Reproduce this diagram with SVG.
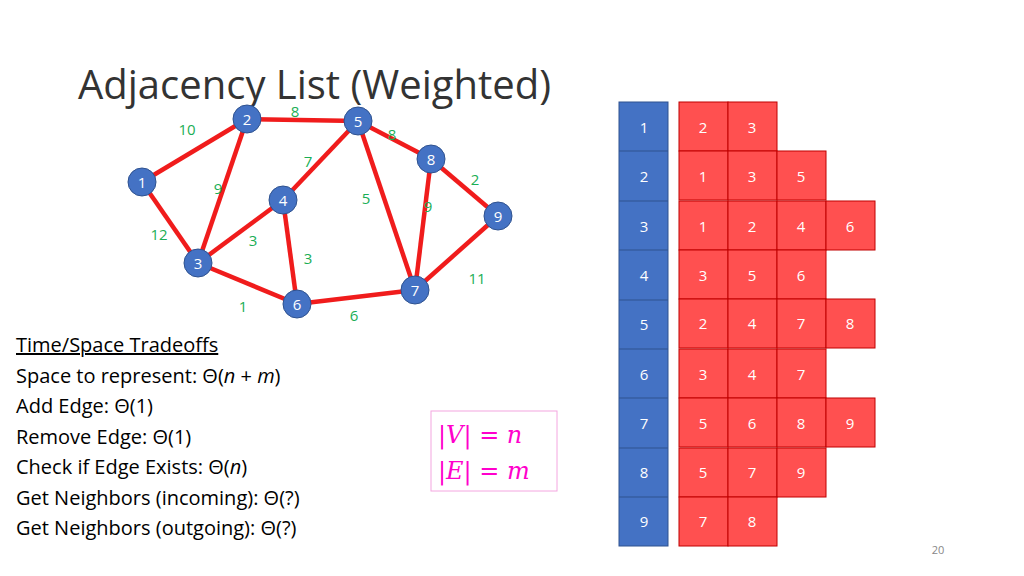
<svg xmlns="http://www.w3.org/2000/svg" width="1024" height="576" viewBox="0 0 1024 576">
<style>
text{font-family:"Open Sans","Liberation Sans",sans-serif}
.e{stroke:#f01c1c;stroke-width:4.5;fill:none}
.w{fill:#1aae55;font-size:15px;text-anchor:middle}
.n circle{fill:#4472c4;stroke:#2f528f;stroke-width:1}
.n text,.c text{fill:#fff;font-size:15px;text-anchor:middle;dominant-baseline:central}
.b{fill:#4472c4;stroke:#2f528f}
.r{fill:#ff5050;stroke:#c00000}
.t{font-size:20px;fill:#000}
.m{font-family:"DejaVu Serif","Liberation Serif",serif;font-size:24px;fill:#ff00cc;font-style:italic}
</style>
<rect width="1024" height="576" fill="#fff"/>
<text x="78" y="99" style="font-size:40px;fill:#333">Adjacency List (Weighted)</text>
<g id="edges">
<line class="e" x1="142" y1="182" x2="247" y2="119"/>
<line class="e" x1="142" y1="182" x2="198" y2="263"/>
<line class="e" x1="247" y1="119" x2="358" y2="121"/>
<line class="e" x1="247" y1="119" x2="198" y2="263"/>
<line class="e" x1="358" y1="121" x2="283" y2="200"/>
<line class="e" x1="358" y1="121" x2="431" y2="159"/>
<line class="e" x1="358" y1="121" x2="415" y2="290"/>
<line class="e" x1="431" y1="159" x2="498" y2="216"/>
<line class="e" x1="431" y1="159" x2="415" y2="290"/>
<line class="e" x1="498" y1="216" x2="415" y2="290"/>
<line class="e" x1="283" y1="200" x2="198" y2="263"/>
<line class="e" x1="283" y1="200" x2="297" y2="304"/>
<line class="e" x1="198" y1="263" x2="297" y2="304"/>
<line class="e" x1="297" y1="304" x2="415" y2="290"/>
<text class="w" x="295" y="117">8</text><text class="w" x="187" y="135">10</text>
<text class="w" x="392" y="140">8</text><text class="w" x="308" y="167">7</text>
<text class="w" x="475" y="185">2</text><text class="w" x="218" y="194">9</text>
<text class="w" x="366" y="204">5</text><text class="w" x="428" y="212">9</text>
<text class="w" x="159" y="240">12</text><text class="w" x="253" y="246">3</text>
<text class="w" x="308" y="264">3</text><text class="w" x="477" y="284">11</text>
<text class="w" x="243" y="312">1</text><text class="w" x="354" y="321">6</text>
</g>
<g id="n1" class="n"><circle cx="142" cy="182" r="14"/><text x="142" y="182">1</text></g>
<g id="n2" class="n"><circle cx="247" cy="119" r="14"/><text x="247" y="119">2</text></g>
<g id="n3" class="n"><circle cx="198" cy="263" r="14"/><text x="198" y="263">3</text></g>
<g id="n4" class="n"><circle cx="283" cy="200" r="14"/><text x="283" y="200">4</text></g>
<g id="n5" class="n"><circle cx="358" cy="121" r="14"/><text x="358" y="121">5</text></g>
<g id="n6" class="n"><circle cx="297" cy="304" r="14"/><text x="297" y="304">6</text></g>
<g id="n7" class="n"><circle cx="415" cy="290" r="14"/><text x="415" y="290">7</text></g>
<g id="n8" class="n"><circle cx="431" cy="159" r="14"/><text x="431" y="159">8</text></g>
<g id="n9" class="n"><circle cx="498" cy="216" r="14"/><text x="498" y="216">9</text></g>
<g id="list" class="c">
<rect class="b" x="619" y="102" width="49" height="444"/>
<g id="row1"><text x="644" y="127">1</text><rect class="r" x="679" y="102" width="49" height="49"/><text x="703" y="127">2</text><rect class="r" x="728" y="102" width="49" height="49"/><text x="752" y="127">3</text></g>
<g id="row2"><line x1="619" y1="151" x2="668" y2="151" stroke="#2f528f"/><text x="644" y="176">2</text><rect class="r" x="679" y="151" width="49" height="49"/><text x="703" y="176">1</text><rect class="r" x="728" y="151" width="49" height="49"/><text x="752" y="176">3</text><rect class="r" x="777" y="151" width="49" height="49"/><text x="801" y="176">5</text></g>
<g id="row3"><line x1="619" y1="201" x2="668" y2="201" stroke="#2f528f"/><text x="644" y="226">3</text><rect class="r" x="679" y="201" width="49" height="49"/><text x="703" y="226">1</text><rect class="r" x="728" y="201" width="49" height="49"/><text x="752" y="226">2</text><rect class="r" x="777" y="201" width="49" height="49"/><text x="801" y="226">4</text><rect class="r" x="826" y="201" width="49" height="49"/><text x="850" y="226">6</text></g>
<g id="row4"><line x1="619" y1="250" x2="668" y2="250" stroke="#2f528f"/><text x="644" y="275">4</text><rect class="r" x="679" y="250" width="49" height="49"/><text x="703" y="275">3</text><rect class="r" x="728" y="250" width="49" height="49"/><text x="752" y="275">5</text><rect class="r" x="777" y="250" width="49" height="49"/><text x="801" y="275">6</text></g>
<g id="row5"><line x1="619" y1="300" x2="668" y2="300" stroke="#2f528f"/><text x="644" y="324">5</text><rect class="r" x="679" y="299" width="49" height="49"/><text x="703" y="323">2</text><rect class="r" x="728" y="299" width="49" height="49"/><text x="752" y="323">4</text><rect class="r" x="777" y="299" width="49" height="49"/><text x="801" y="323">7</text><rect class="r" x="826" y="299" width="49" height="49"/><text x="850" y="323">8</text></g>
<g id="row6"><line x1="619" y1="349" x2="668" y2="349" stroke="#2f528f"/><text x="644" y="374">6</text><rect class="r" x="679" y="349" width="49" height="49"/><text x="703" y="374">3</text><rect class="r" x="728" y="349" width="49" height="49"/><text x="752" y="374">4</text><rect class="r" x="777" y="349" width="49" height="49"/><text x="801" y="374">7</text></g>
<g id="row7"><line x1="619" y1="398" x2="668" y2="398" stroke="#2f528f"/><text x="644" y="423">7</text><rect class="r" x="679" y="398" width="49" height="49"/><text x="703" y="423">5</text><rect class="r" x="728" y="398" width="49" height="49"/><text x="752" y="423">6</text><rect class="r" x="777" y="398" width="49" height="49"/><text x="801" y="423">8</text><rect class="r" x="826" y="398" width="49" height="49"/><text x="850" y="423">9</text></g>
<g id="row8"><line x1="619" y1="448" x2="668" y2="448" stroke="#2f528f"/><text x="644" y="472">8</text><rect class="r" x="679" y="448" width="49" height="49"/><text x="703" y="472">5</text><rect class="r" x="728" y="448" width="49" height="49"/><text x="752" y="472">7</text><rect class="r" x="777" y="448" width="49" height="49"/><text x="801" y="472">9</text></g>
<g id="row9"><line x1="619" y1="497" x2="668" y2="497" stroke="#2f528f"/><text x="644" y="521">9</text><rect class="r" x="679" y="497" width="49" height="49"/><text x="703" y="521">7</text><rect class="r" x="728" y="497" width="49" height="49"/><text x="752" y="521">8</text></g>
</g>
<g id="tradeoffs">
<text class="t" x="16" y="352" text-decoration="underline">Time/Space Tradeoffs</text>
<text class="t" x="16" y="383">Space to represent: Θ(<tspan font-style="italic">n</tspan> + <tspan font-style="italic">m</tspan>)</text>
<text class="t" x="16" y="413">Add Edge: Θ(1)</text>
<text class="t" x="16" y="444">Remove Edge: Θ(1)</text>
<text class="t" x="16" y="474">Check if Edge Exists: Θ(<tspan font-style="italic">n</tspan>)</text>
<text class="t" x="16" y="505">Get Neighbors (incoming): Θ(?)</text>
<text class="t" x="16" y="535">Get Neighbors (outgoing): Θ(?)</text>
</g>
<g id="vE">
<rect x="431" y="411" width="126" height="80" fill="none" stroke="#f4a6e0"/>
<text class="m" x="438" y="443">|V| = n</text>
<text class="m" x="438" y="479">|E| = m</text>
</g>
<text x="938" y="554" style="font-size:11px;fill:#888;text-anchor:middle">20</text>
</svg>
